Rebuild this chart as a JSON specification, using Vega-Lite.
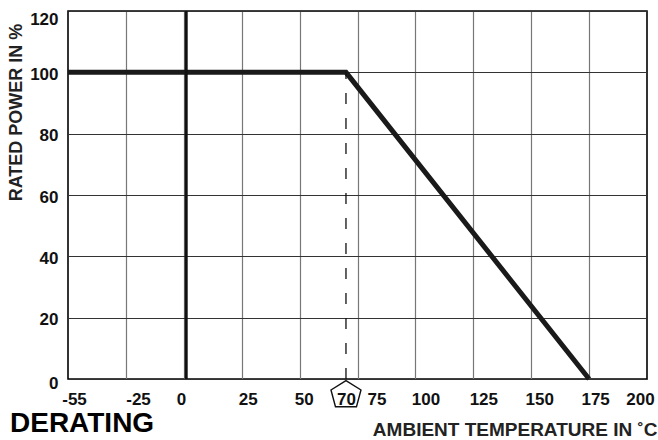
{
  "$schema": "https://vega.github.io/schema/vega-lite/v6.json",
  "autosize": {"type": "none"},
  "padding": {"left": 68, "top": 11, "right": 11, "bottom": 61},
  "width": 579,
  "height": 368,
  "background": "white",
  "config": {
    "view": {"stroke": "black", "strokeWidth": 1.6},
    "font": "Liberation Sans"
  },
  "title": {
    "text": "DERATING",
    "orient": "bottom",
    "anchor": "start",
    "frame": "bounds",
    "font": "Liberation Sans",
    "fontSize": 28,
    "fontWeight": "bold",
    "color": "black",
    "offset": 0,
    "dx": 3,
    "dy": -29
  },
  "datasets": {
    "curve": [
      {"temp": -55, "power": 100},
      {"temp": 70, "power": 100},
      {"temp": 175, "power": 0}
    ],
    "single": [{}]
  },
  "layer": [
    {
      "data": {"name": "curve"},
      "mark": {"type": "line", "color": "#1a1a1a", "strokeWidth": 5, "strokeJoin": "miter", "strokeCap": "butt"},
      "encoding": {
        "x": {
          "field": "temp",
          "type": "quantitative",
          "scale": {"domain": [-55, -25, 200], "range": [0, 58, 579], "nice": false, "zero": false},
          "axis": {
            "values": [-55, -25, 0, 25, 50, 70, 75, 100, 125, 150, 175, 200],
            "labelExpr": "'' + datum.value",
            "title": "AMBIENT TEMPERATURE IN ˚C",
            "titleFont": "Liberation Sans",
            "titleFontSize": 19,
            "titleFontWeight": "bold",
            "titleColor": "#222",
            "titleAlign": "right",
            "titleAnchor": "end",
            "titleBaseline": "middle",
            "titleX": 589,
            "titleY": 50,
            "labelFont": "Liberation Sans",
            "labelFontSize": 17,
            "labelFontWeight": "bold",
            "labelColor": "#111",
            "labelBaseline": "middle",
            "labelPadding": 20,
            "labelFlush": false,
            "labelOverlap": false,
            "labelOffset": {"expr": "datum.value == -55 ? 6 : datum.value == -25 ? 12 : datum.value == 0 ? -3 : datum.value == 25 ? 6 : datum.value == 50 ? 4 : datum.value == 75 ? 19 : datum.value == 100 ? 10 : datum.value == 125 ? 10 : datum.value == 150 ? 8 : datum.value == 175 ? 6 : datum.value == 200 ? -7 : 0"},
            "ticks": false,
            "tickSize": 0,
            "domain": false,
            "grid": true,
            "gridColor": "#777",
            "gridWidth": 1.2,
            "gridOpacity": {"expr": "datum.value == 70 || datum.value == -55 || datum.value == 200 ? 0 : 1"}
          }
        },
        "y": {
          "field": "power",
          "type": "quantitative",
          "scale": {"domain": [0, 120], "nice": false},
          "axis": {
            "values": [0, 20, 40, 60, 80, 100, 120],
            "title": "RATED POWER IN %",
            "titleFont": "Liberation Sans",
            "titleFontSize": 18,
            "titleFontWeight": "bold",
            "titleColor": "#222",
            "titleAngle": 270,
            "titleAlign": "center",
            "titleBaseline": "middle",
            "titleX": -52,
            "titleY": 101,
            "labelFont": "Liberation Sans",
            "labelFontSize": 17,
            "labelFontWeight": "bold",
            "labelColor": "#111",
            "labelPadding": 10,
            "labelBaseline": "middle",
            "labelOffset": {"expr": "datum.value == 120 ? 8 : datum.value == 0 ? 4 : 2"},
            "ticks": false,
            "tickSize": 0,
            "domain": false,
            "grid": true,
            "gridColor": "#333",
            "gridWidth": 1
          }
        }
      }
    },
    {
      "data": {"name": "single"},
      "mark": {"type": "rule", "color": "#111", "strokeWidth": 1.3, "strokeDash": [11, 14]},
      "encoding": {
        "x": {"datum": 70, "type": "quantitative"},
        "y": {"datum": 0, "type": "quantitative"},
        "y2": {"datum": 100}
      }
    },
    {
      "data": {"name": "single"},
      "mark": {"type": "rule", "color": "#111", "strokeWidth": 3},
      "encoding": {
        "x": {"datum": 1, "type": "quantitative"},
        "y": {"datum": 0, "type": "quantitative"},
        "y2": {"datum": 120}
      }
    },
    {
      "data": {"name": "single"},
      "mark": {
        "type": "point",
        "shape": "M0,-0.87L1,-0.25L0.7,0.87L-0.7,0.87L-1,-0.25Z",
        "size": 900,
        "filled": false,
        "stroke": "#111",
        "strokeWidth": 1.4,
        "opacity": 1
      },
      "encoding": {
        "x": {"datum": 70, "type": "quantitative"},
        "y": {"datum": -4.8, "type": "quantitative"}
      }
    }
  ]
}
